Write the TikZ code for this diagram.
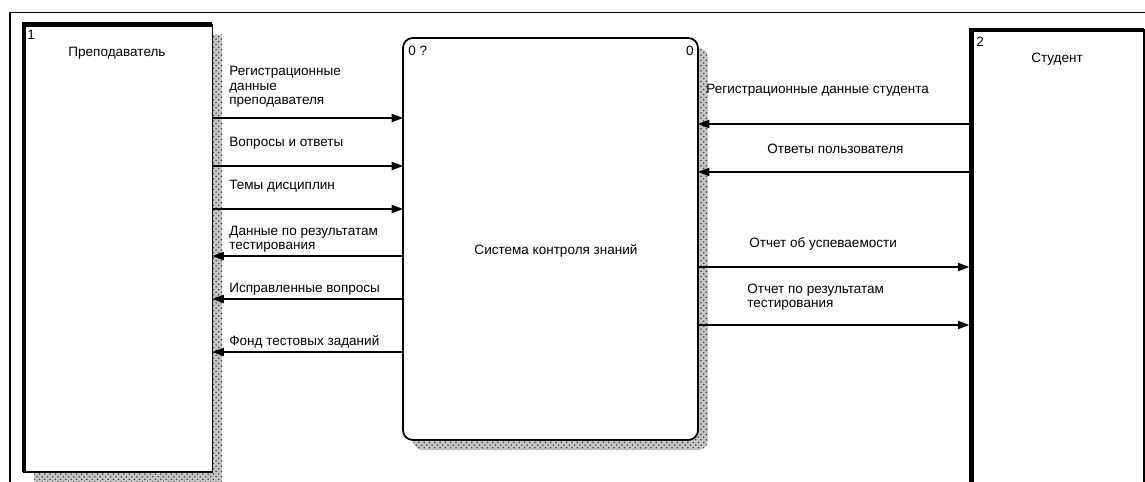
\documentclass[tikz,border=0pt]{standalone}
\usepackage{fontspec}
\setmainfont{Liberation Sans}
\usetikzlibrary{arrows.meta,patterns,backgrounds}

\begin{document}
\begin{tikzpicture}[
  x=0.02cm, y=-0.02cm,
  every node/.style={font=\fontsize{7.7}{8.4}\selectfont},
  box/.style={draw, fill=white, line width=0.9pt, inner sep=0pt, outer sep=0pt},
  heavy/.style={line width=2.6pt},
  hatch/.style={fill=gray!45, postaction={pattern=crosshatch dots, pattern color=gray!50!black}},
  flow/.style={-{Triangle[length=6.5pt,width=4.8pt]}, line width=0.6pt},
  lbl/.style={anchor=base west, align=left, inner sep=0pt}
]
\useasboundingbox (0,0) rectangle (1145,482);
\clip (0,0) rectangle (1145,482);
\draw[line width=0.6pt] (10,520) -- (10,12.5) -- (1160,12.5);

\node[box, minimum width=3.77cm, minimum height=8.95cm] (prep) at (118.25,248.25) {};
\node[box, rounded corners=5.5pt, line width=1pt, minimum width=5.9cm, minimum height=8.04cm] (sys) at (550.5,239) {};
\node[box, minimum width=3.45cm, minimum height=10cm] (stud) at (1057.75,280) {};
\draw[heavy] (prep.south west) -- (prep.north west) -- (prep.north east);
\draw[heavy] (stud.south west) -- (stud.north west) -- (stud.north east);

\begin{scope}[on background layer]
\path[hatch] ([shift={(10,10)}]prep.south west) rectangle ([shift={(10,10)}]prep.north east);
\path[hatch, rounded corners=5.5pt] ([shift={(10,10)}]sys.south west) rectangle ([shift={(10,10)}]sys.north east);
\end{scope}

\node[lbl] at (27,40) {1};
\node[anchor=base] at (117,57) {Преподаватель};
\node[lbl] at (976,47) {2};
\node[anchor=base] at (1057,63) {Студент};
\node[lbl] at (408,56) {0 ?};
\node[anchor=base east, inner sep=0pt] at (694,56) {0};
\node[anchor=base] at (556,255) {Система контроля знаний};

\draw[flow] (prep.east |- 0,118) -- (sys.west |- 0,118);
\draw[flow] (prep.east |- 0,166) -- (sys.west |- 0,166);
\draw[flow] (prep.east |- 0,209) -- (sys.west |- 0,209);
\draw[flow] (sys.west |- 0,256) -- (prep.east |- 0,256);
\draw[flow] (sys.west |- 0,299) -- (prep.east |- 0,299);
\draw[flow] (sys.west |- 0,352) -- (prep.east |- 0,352);
\draw[flow] (stud.west |- 0,124) -- (sys.east |- 0,124);
\draw[flow] (stud.west |- 0,172) -- (sys.east |- 0,172);
\draw[flow, shorten >=1.3pt] (sys.east |- 0,267) -- (stud.west |- 0,267);
\draw[flow, shorten >=1.3pt] (sys.east |- 0,325) -- (stud.west |- 0,325);

\node[lbl] at (229,105) {Регистрационные\\данные\\преподавателя};
\node[lbl] at (229,147) {Вопросы и ответы};
\node[lbl] at (229,190) {Темы дисциплин};
\node[lbl] at (229,250) {Данные по результатам\\тестирования};
\node[lbl] at (229,293) {Исправленные вопросы};
\node[lbl] at (229,346) {Фонд тестовых заданий};
\node[lbl] at (706,94) {Регистрационные данные студента};
\node[lbl] at (767,154) {Ответы пользователя};
\node[lbl] at (749,248) {Отчет об успеваемости};
\node[lbl] at (747,308) {Отчет по результатам\\тестирования};
\end{tikzpicture}
\end{document}
